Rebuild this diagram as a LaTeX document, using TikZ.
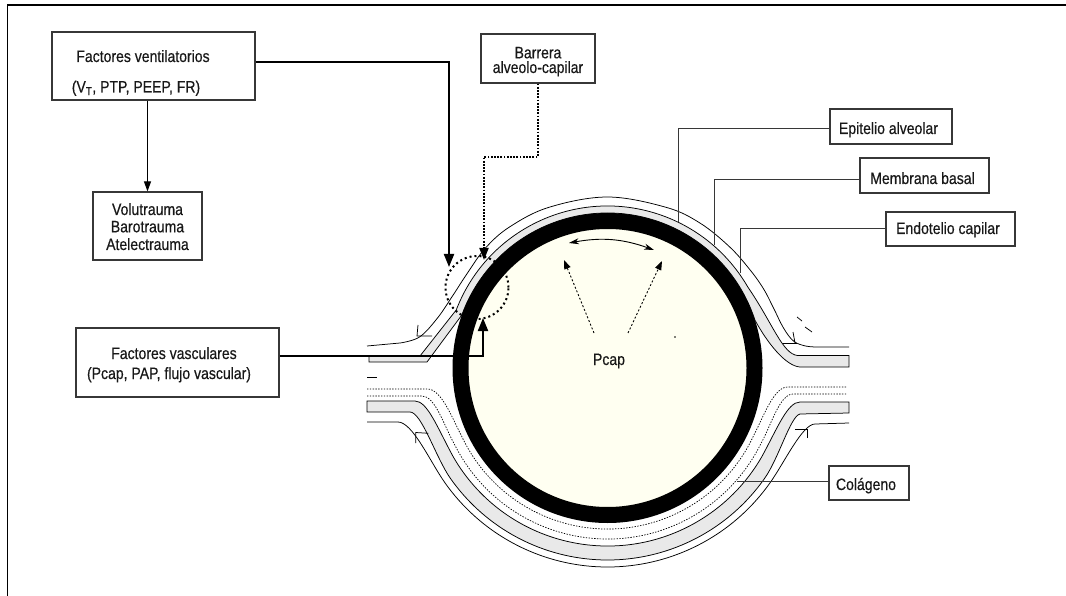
\documentclass[tikz,border=0pt]{standalone}
\usepackage{fontspec}
\setmainfont{Liberation Sans}[FakeStretch=0.85, FakeBold=0.4]
\usetikzlibrary{arrows.meta}
\definecolor{cream}{RGB}{255,255,241}
\definecolor{bandgray}{RGB}{233,233,233}
\definecolor{ink}{RGB}{24,24,24}
\definecolor{boxline}{RGB}{55,55,55}

\begin{document}
\begin{tikzpicture}[x=1pt,y=1pt,
  font=\fontsize{16.5}{18}\selectfont,
  labelbox/.style={draw=boxline, line width=1.2pt, fill=white, inner sep=0pt},
  txt/.style={anchor=base, inner sep=0pt, text=ink},
  membrane/.style={line width=0.75pt, draw=black},
  band/.style={fill=bandgray, draw=black, line width=0.75pt},
  dots/.style={line width=0.7pt, dash pattern=on 1.4pt off 1.4pt},
  thickconn/.style={line width=2pt, -{Triangle[length=13pt,width=10pt]}},
  dotconn/.style={line width=2pt, dash pattern=on 1.8pt off 1.4pt, -{Triangle[length=12pt,width=9pt]}},
  pressure/.style={line width=0.9pt, dash pattern=on 2pt off 2pt, -{Triangle[length=9pt,width=6.5pt]}},
  leader/.style={draw=boxline, line width=0.9pt},
]
\useasboundingbox (0,0) rectangle (1066,-596);
\fill[white] (0,0) rectangle (1066,-596);
% frame
\draw[line width=1.4pt] (1066,-5) -- (7.5,-5) -- (7.5,-596);

% ---------- alveolo-capillary wall, centred on the capillary ----------
\begin{scope}[shift={(607.5,-368)}]
  % lower wall: grey band
  \filldraw[band] (-240.5,-33) -- (-192.5,-33)
    .. controls (-180,-33) and (-170,-60) .. (210:178)
    arc[start angle=210, end angle=330, radius=178]
    .. controls (170,-60) and (180,-34) .. (192.5,-34)
    -- (241.5,-34) -- (241.5,-45) -- (192.5,-46)
    .. controls (183,-48) and (171.6,-89.6) .. (325:192)
    arc[start angle=325, end angle=215, radius=192]
    .. controls (-171.6,-89.6) and (-186,-44) .. (-197.5,-44)
    -- (-240.5,-44) -- cycle;
  % upper wall: grey band
  \filldraw[band] (-238.5,12) -- (-187.5,12) -- (159:162)
    arc[start angle=159, end angle=30, radius=162]
    .. controls (165,45) and (175,14) .. (190,12.5)
    -- (241.5,12.5) -- (241.5,1) -- (192.5,1)
    .. controls (178,2) and (160,25) .. (18:155)
    arc[start angle=18, end angle=160, radius=155]
    -- (-180.5,6) -- (-238.5,6) -- cycle;
  % upper epithelial line
  \draw[membrane] (-240.5,22) -- plot[smooth, tension=0.6] coordinates {
    (-207.5,25) (-188,31) (-170,50) (-155,72) (-140,95) (-122,120) (-98,141)
    (-58.5,160.7) (0,171) (58.5,160.7) (92.4,145) (121.6,121.6) (141.7,99.2)
    (155.9,79.4) (166,60) (176,40) (186,27) (198,22) (210,21)} -- (241.5,21);
  % lower epithelial line
  \draw[membrane] (-240.5,-54) -- (-209.5,-54)
    .. controls (-195,-54) and (-177.4,-93.6) .. (215:199)
    arc[start angle=215, end angle=325, radius=199]
    .. controls (177.4,-93.6) and (195,-56) .. (207.5,-56) -- (241.5,-55);
  % collagen (dotted)
  \draw[dots] (-240.5,-21) -- (-180,-21)
    .. controls (-166,-21) and (-155.3,-50.4) .. (205:161)
    arc[start angle=205, end angle=335, radius=161]
    .. controls (155.3,-50.4) and (166,-19) .. (180,-19) -- (239.5,-19);
  \draw[dots] (-240.5,-28) -- (-185.5,-28)
    .. controls (-172,-28) and (-163.3,-58.5) .. (207:171)
    arc[start angle=207, end angle=333, radius=171]
    .. controls (163.3,-58.5) and (172,-26) .. (185.5,-26) -- (239.5,-26);
  % capillary lumen and endothelium
  \fill[cream] (0,0) circle[radius=147];
  \draw[line width=16pt] (0,0) circle[radius=147];
\end{scope}

% junction marks and small strokes
\draw[membrane] (418,-325) -- (417,-336) -- (432,-336);
\draw[membrane] (415.7,-443) -- (415.7,-432.5) -- (428.3,-433.3);
\draw[membrane] (783,-343) -- (797,-343);
\draw[membrane] (793,-332) -- (795,-343);
\draw[membrane] (807,-438) -- (807,-428.5);
\draw[membrane] (795,-429) -- (807,-429);
\draw[membrane] (797,-317) -- (802,-321);
\draw[membrane] (805,-327) -- (812,-332);
\draw[membrane] (367,-377) -- (377,-377);

% pressure inside the capillary
\coordinate (swL) at (569,-243);
\coordinate (swR) at (654,-250);
\draw[line width=0.9pt, {Stealth[length=10pt,width=6pt]}-{Stealth[length=10pt,width=6pt]}] (swL) to[bend left=15] (swR);
\coordinate (pcL0) at (594,-333);
\coordinate (pcL1) at (564,-260);
\coordinate (pcR0) at (628,-333);
\coordinate (pcR1) at (662,-261);
\draw[pressure] (pcL0) -- (pcL1);
\draw[pressure] (pcR0) -- (pcR1);
\node[txt] (pcap) at (609,-365) {Pcap};
\fill (675,-337) circle[radius=0.8];

% label boxes
\node[labelbox, minimum width=203pt, minimum height=68pt] (vent) at (153.5,-66) {};
\node[labelbox, minimum width=109pt, minimum height=68pt] (trauma) at (147.5,-226) {};
\node[labelbox, minimum width=114pt, minimum height=49pt] (barrier) at (538,-58.5) {};
\node[labelbox, minimum width=203pt, minimum height=69pt] (vasc) at (177.5,-362.5) {};
\node[labelbox, minimum width=122pt, minimum height=35pt] (epi) at (891,-126.5) {};
\node[labelbox, minimum width=129pt, minimum height=35pt] (basal) at (924.5,-175.5) {};
\node[labelbox, minimum width=129pt, minimum height=34pt] (endo) at (950.5,-229) {};
\node[labelbox, minimum width=80pt, minimum height=34pt] (colag) at (869,-483) {};

\node[txt] (ventA) at (143,-62) {Factores ventilatorios};
\node[txt] (ventB) at (136,-92.5) {(V\textsubscript{T}, PTP, PEEP, FR)};
\node[txt] (traumaA) at (147.5,-215) {Volutrauma};
\node[txt] (traumaB) at (147.5,-232.3) {Barotrauma};
\node[txt] (traumaC) at (147.5,-250) {Atelectrauma};
\node[txt] (barrierA) at (538,-58.3) {Barrera};
\node[txt] (barrierB) at (538,-73) {alveolo-capilar};
\node[txt] (vascA) at (174,-359) {Factores vasculares};
\node[txt] (vascB) at (169,-379) {(Pcap, PAP, flujo vascular)};
\node[txt] (epiT) at (888.5,-134) {Epitelio alveolar};
\node[txt] (basalT) at (922.5,-184) {Membrana basal};
\node[txt] (endoT) at (948,-234) {Endotelio capilar};
\node[txt] (colagT) at (866,-490) {Colágeno};

% leaders from the layer labels
\coordinate (epiEnd) at (678,-222);
\coordinate (basalEnd) at (714,-245);
\coordinate (endoEnd) at (740,-273);
\coordinate (colagEnd) at (737,-481);
\draw[leader] ([yshift=-1.5pt]epi.west) -| (epiEnd);
\draw[leader] ([yshift=-3.5pt]basal.west) -| (basalEnd);
\draw[leader] ([yshift=1pt]endo.west) -| (endoEnd);
\draw[leader] ([yshift=2pt]colag.west) -- (colagEnd);

% injury zone
\node[draw, circle, inner sep=0pt, minimum size=63pt, line width=2pt,
      dash pattern=on 2pt off 3pt] (zone) at (477,-287.5) {};

% connectors
\coordinate (ventTip) at (449,-267);
\coordinate (barTip) at (484,-260);
\coordinate (vascTip) at (483,-318);
\draw[line width=1pt, -{Triangle[length=10pt,width=7pt]}] (trauma.north |- vent.south) -- (trauma.north);
\draw[thickconn] ([yshift=4pt]vent.east) -| (ventTip);
\draw[dotconn] (barrier.south) -- ++(0,-73) -| (barTip);
\draw[thickconn] ([yshift=6.5pt]vasc.east) -| (vascTip);
\end{tikzpicture}
\end{document}
